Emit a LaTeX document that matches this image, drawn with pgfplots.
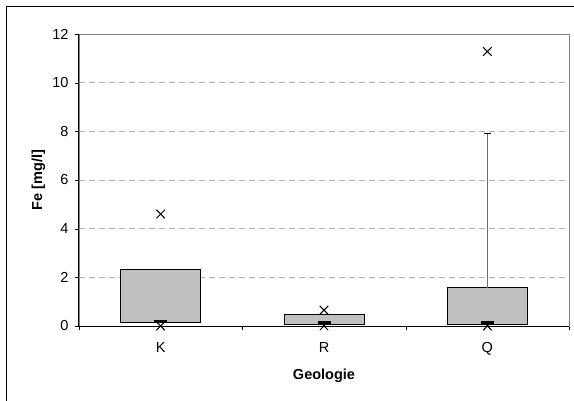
\documentclass[border=0pt]{standalone}
\usepackage{pgfplots}
\pgfplotsset{compat=1.18}
\usepackage{fontspec}
\setmainfont{Liberation Sans}
\definecolor{boxgray}{RGB}{192,192,192}
\definecolor{gridgray}{RGB}{176,176,176}
\definecolor{bordergray}{RGB}{128,128,128}
\definecolor{whiskgray}{RGB}{110,110,110}
\begin{document}
\begin{tikzpicture}[x=1pt,y=1pt]
\clip (0,0) rectangle (574,400);
\useasboundingbox (0,0) rectangle (574,400);
\draw[black, line width=1pt] (6,-10) -- (6,393) -- (590,393);
\begin{axis}[
  at={(79pt,74pt)}, anchor=south west,
  scale only axis, width=490pt, height=292pt,
  xmin=-0.5, xmax=2.5, ymin=0, ymax=12,
  ytick={0,2,...,12},
  xtick={0,1,2}, xticklabels={K,R,Q},
  minor xtick={-0.5,0.5,1.5,2.5},
  xtick style={draw=none},
  minor x tick style={draw=black},
  minor tick length=4pt, major tick length=4pt,
  tick align=outside, ytick pos=left, xtick pos=bottom,
  ymajorgrids, grid style={gridgray, dash pattern=on 6pt off 4pt, line width=0.8pt},
  axis line style={bordergray, line width=0.8pt},
  ytick style={black},
  /pgf/number format/assume math mode=true,
  tick label style={font=\fontsize{14.5}{17}\selectfont, black},
  yticklabel style={xshift=-3pt},
  xticklabel style={yshift=-9pt},
  xlabel={\textbf{Geologie}}, ylabel={\textbf{Fe [mg/l]}},
  label style={font=\fontsize{14.5}{17}\selectfont},
  xlabel style={at={(axis description cs:0.5,-0.171)}, anchor=center},
  ylabel style={at={(axis description cs:-0.0827,0.5)}, anchor=center},
  clip=false,
  after end axis/.code={
    \draw[black, line width=1pt] (rel axis cs:0,1) -- (rel axis cs:0,0) -- (rel axis cs:1,0);
  },
]
% boxes
\addplot[fill=boxgray, draw=black, line width=0.9pt] coordinates {(-0.245,0.14) (0.245,0.14) (0.245,2.33) (-0.245,2.33)} -- cycle;
\addplot[fill=boxgray, draw=black, line width=0.9pt] coordinates {(0.755,0.07) (1.245,0.07) (1.245,0.48) (0.755,0.48)} -- cycle;
\addplot[fill=boxgray, draw=black, line width=0.9pt] coordinates {(1.755,0.08) (2.245,0.08) (2.245,1.58) (1.755,1.58)} -- cycle;
% whisker Q
\addplot[whiskgray, line width=1pt] coordinates {(2,1.58) (2,7.9)};
\addplot[only marks, mark=-, mark size=3.5pt, mark options={black, line width=1.3pt}] coordinates {(2,7.9)};
% medians
\addplot[only marks, mark=-, mark size=6.5pt, mark options={black, line width=3pt}] coordinates {(0,0.2) (1,0.13) (2,0.13)};
% min/max crosses
\addplot[only marks, mark=x, mark size=6pt, mark options={black, line width=1pt}] coordinates {(0,4.6) (0,0) (1,0.65) (1,0) (2,11.28) (2,0)};
\end{axis}
\end{tikzpicture}
\end{document}
